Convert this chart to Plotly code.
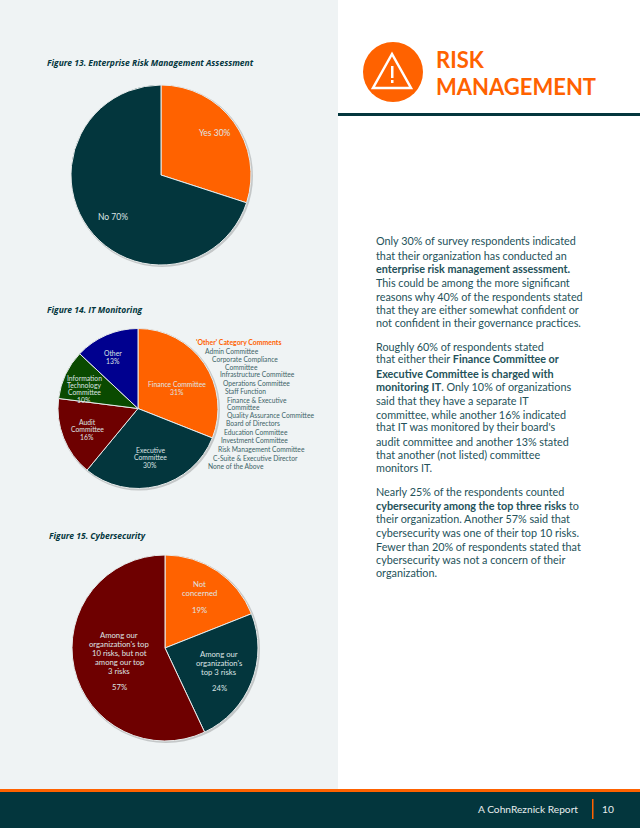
import plotly.graph_objects as go

W, H = 640, 828
DARK = "#03363d"
ORANGE = "#ff6200"
MAROON = "#6e0000"
GREEN = "#0a4a00"
NAVY = "#00008f"
PANEL = "#eff3f4"
FONT = "Lato"

fig13_labels = ["Yes", "No"]
fig13_values = [30, 70]
fig14_labels = ["Finance Committee", "Executive Committee", "Audit Committee", "Information Technology Committee", "Other"]
fig14_values = [31, 30, 16, 10, 13]
fig15_labels = ["Not concerned", "Among our organization's top 3 risks", "Among our organization's top 10 risks, but not among our top 3 risks"]
fig15_values = [19, 24, 57]

other_lines = ["Admin Committee", "Corporate Compliance", "Committee", "Infrastructure Committee",
               "Operations Committee", "Staff Function", "Finance & Executive", "Committee",
               "Quality Assurance Committee", "Board of Directors", "Education Committee",
               "Investment Committee", "Risk Management Committee", "C-Suite & Executive Director",
               "None of the Above"]
other_x = [205, 212, 225, 220, 223, 225, 227, 227, 227, 226, 224, 221, 218, 213, 208]
other_y = [351, 359, 366.5, 374, 383, 391, 399.5, 406.5, 415, 423, 432, 440, 449, 458, 466]

body_lines = [
    "Only 30% of survey respondents indicated", "that their organization has conducted an",
    "<b>enterprise risk management assessment.</b>", "This could be among the more significant",
    "reasons why 40% of the respondents stated", "that they are either somewhat confident or",
    "not confident in their governance practices.",
    "Roughly 60% of respondents stated", "that either their <b>Finance Committee or</b>",
    "<b>Executive Committee is charged with</b>", "<b>monitoring IT</b>. Only 10% of organizations",
    "said that they have a separate IT", "committee, while another 16% indicated",
    "that IT was monitored by their board's", "audit committee and another 13% stated",
    "that another (not listed) committee", "monitors IT.",
    "Nearly 25% of the respondents counted", "<b>cybersecurity among the top three risks</b> to",
    "their organization. Another 57% said that", "cybersecurity was one of their top 10 risks.",
    "Fewer than 20% of respondents stated that", "cybersecurity was not a concern of their",
    "organization.",
]
body_y = [241, 255, 268.5, 282.5, 296, 309.5, 323,
          346, 359, 373, 386.5, 400.5, 414, 427, 441, 454.5, 468,
          491, 505, 518, 532, 546, 559, 572.5]


def px(x):
    return x / W


def py(y):
    return 1 - y / H


def pie(cx, cy, r, labels, values, colors):
    return go.Pie(
        labels=labels, values=values, sort=False, direction="clockwise", rotation=0,
        marker=dict(colors=colors, line=dict(color="#e8ecec", width=1)),
        textinfo="none", hoverinfo="label+percent", showlegend=False,
        domain=dict(x=[px(cx - r), px(cx + r)], y=[py(cy + r), py(cy - r)]),
    )


def shadow(cx, cy, r):
    return dict(type="circle", xref="paper", yref="paper", layer="below",
                x0=px(cx - r), x1=px(cx + r + 2), y0=py(cy + r + 2), y1=py(cy - r),
                fillcolor="rgba(0,0,0,0.18)", line=dict(width=0))


PIES = [(161, 175, 90), (138, 408.5, 80), (165, 648, 93)]

fig = go.Figure()
fig.add_trace(pie(*PIES[0], fig13_labels, fig13_values, [ORANGE, DARK]))
fig.add_trace(pie(*PIES[1], fig14_labels, fig14_values, [ORANGE, DARK, MAROON, GREEN, NAVY]))
fig.add_trace(pie(*PIES[2], fig15_labels, fig15_values, [ORANGE, DARK, MAROON]))

ann = []


def text(x, y, s, size=8, color="#ffffff", anchor="center", family=FONT):
    ann.append(dict(x=px(x), y=py(y), xref="paper", yref="paper", text=s, showarrow=False,
                    xanchor=anchor, yanchor="middle", align=anchor, borderpad=0, borderwidth=0,
                    font=dict(family=family, size=size, color=color)))


LIGHT = "#dde4e4"
text(215, 133, f"{fig13_labels[0]} {fig13_values[0]}%", size=8.5, color=LIGHT)
text(113, 217, f"{fig13_labels[1]} {fig13_values[1]}%", size=8.5, color=LIGHT)

for s, x, y in [("Finance Committee", 177, 384), (f"{fig14_values[0]}%", 177, 391.5),
                ("Executive", 150, 450), ("Committee", 150, 457), (f"{fig14_values[1]}%", 150, 464.5),
                ("Audit", 87, 422), ("Committee", 87, 429), (f"{fig14_values[2]}%", 87, 436.5),
                ("Information", 84, 378), ("Technology", 84, 385), ("Committee", 84, 392), (f"{fig14_values[3]}%", 84, 399.5),
                (fig14_labels[4], 113, 353), (f"{fig14_values[4]}%", 113, 360.5)]:
    text(x, y, s, size=6.8, color=LIGHT)

for s, x, y in [("Not", 199, 584), ("concerned", 199, 593), (f"{fig15_values[0]}%", 199, 610),
                ("Among our", 219, 654), ("organization's", 219, 663), ("top 3 risks", 219, 671.5), (f"{fig15_values[1]}%", 219, 688),
                ("Among our", 119, 635), ("organization's top", 119, 644), ("10 risks, but not", 119, 653),
                ("among our top", 119, 661.5), ("3 risks", 119, 670.5), (f"{fig15_values[2]}%", 119, 687)]:
    text(x, y, s, size=7.7, color=LIGHT)

text(196, 342, "<b>'Other' Category Comments</b>", size=6.9, color=ORANGE, anchor="left")
for s, x, y in zip(other_lines, other_x, other_y):
    text(x, y, s, size=6.7, color="#3d6468", anchor="left")

TITLE_FONT = "Open Sans"
text(47, 62, "<b><i>Figure 13. Enterprise Risk Management Assessment</i></b>", size=8.5, color=DARK, anchor="left", family=TITLE_FONT)
text(47, 309, "<b><i>Figure 14. IT Monitoring</i></b>", size=8.5, color=DARK, anchor="left", family=TITLE_FONT)
text(49, 535, "<b><i>Figure 15. Cybersecurity</i></b>", size=8.5, color=DARK, anchor="left", family=TITLE_FONT)

for s, y in zip(body_lines, body_y):
    text(376, y, s, size=10.8, color="#24525a", anchor="left")

text(436, 60, "<b>RISK</b>", size=22, color=ORANGE, anchor="left")
text(436, 86, "<b>MANAGEMENT</b>", size=22, color=ORANGE, anchor="left")
text(578, 809, "A CohnReznick Report", size=10.2, color="#e8eeee", anchor="right")
text(602, 809, "10", size=10.2, color="#e8eeee", anchor="left")


def rect(x0, y0, x1, y1, color, layer="below"):
    return dict(type="rect", xref="paper", yref="paper", x0=px(x0), x1=px(x1), y0=py(y0), y1=py(y1),
                fillcolor=color, line=dict(width=0), layer=layer)


def path_px(points):
    return "M " + " L ".join(f"{px(x):.5f},{py(y):.5f}" for x, y in points) + " Z"


shapes = [
    rect(0, 0, 338, 789, PANEL),
    shadow(*PIES[0]), shadow(*PIES[1]), shadow(*PIES[2]),
    rect(338, 113, 640, 116, DARK),
    rect(0, 789, 640, 792, ORANGE),
    rect(0, 792, 640, 828, DARK),
    rect(592, 799, 593.5, 819, ORANGE),
    dict(type="circle", xref="paper", yref="paper", x0=px(363), x1=px(423), y0=py(102), y1=py(42),
         fillcolor=ORANGE, line=dict(width=0)),
    dict(type="path", xref="paper", yref="paper", path=path_px([(392, 54), (373, 88), (411, 88)]),
         fillcolor=ORANGE, line=dict(color="white", width=2.5)),
    rect(391, 66, 393.5, 78, "white", "above"),
    rect(391, 80, 393.5, 83, "white", "above"),
]

fig.update_layout(width=W, height=H, autosize=False, margin=dict(l=0, r=0, t=0, b=0),
                  paper_bgcolor="white", plot_bgcolor="white", annotations=ann, shapes=shapes)
fig.write_html("out.html", config=dict(displayModeBar=False),
               post_script="document.body.style.margin='0';document.body.style.overflow='hidden';")
